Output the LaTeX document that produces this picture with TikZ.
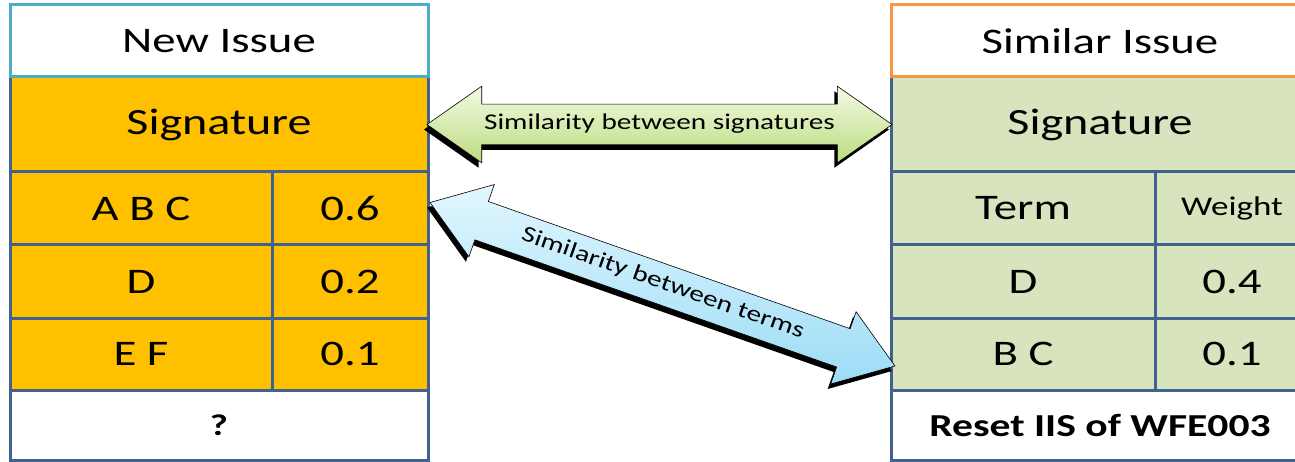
\documentclass[tikz,border=0pt]{standalone}
\usepackage{fontspec}
\setmainfont{Carlito}[FakeStretch=1.3]
\usetikzlibrary{calc, positioning, shapes.arrows, shadows}

\definecolor{tblue}{HTML}{41618F}
\definecolor{hcyan}{HTML}{4BACC6}
\definecolor{horange}{HTML}{F79646}
\definecolor{sigorange}{HTML}{FFC000}
\definecolor{siggreen}{HTML}{D7E4BD}
\definecolor{agreenhi}{HTML}{F3FBE3}
\definecolor{agreenlo}{HTML}{BCDB80}
\definecolor{abluehi}{HTML}{E2F7FF}
\definecolor{abluelo}{HTML}{9CDCF6}

\tikzstyle{cell}=[
draw=tblue,
line width=3pt,
inner sep=0pt,
outer sep=0pt,
anchor=north west,
font=\fontsize{36}{40}\selectfont,
]
\tikzstyle{simarrow}=[
double arrow,
double arrow head extend=18pt,
double arrow tip angle=70,
draw=black,
line width=0.6pt,
inner xsep=0pt, inner ysep=10pt,
text height=15pt, text depth=5pt,
font=\fontsize{22.5}{26}\selectfont,
drop shadow={shadow xshift=-3pt, shadow yshift=-5pt, fill=black, opacity=1},
]

\begin{document}
\begin{tikzpicture}[x=1pt, y=-1pt]
        \useasboundingbox (0,0) rectangle (1295,462);

        % new issue
        \begin{scope}[every node/.append style={fill=sigorange}]
          \node[cell, minimum width=418pt, minimum height=95pt,
            font=\fontsize{37}{40}\selectfont] (lsig) at (10,77) {Signature};
          \node[cell, minimum width=262pt, minimum height=73pt] (lt1) at (lsig.south west) {A B C};
          \node[cell, minimum width=156pt, minimum height=73pt] (lw1) at (lt1.north east) {0.6};
          \node[cell, minimum width=262pt, minimum height=73pt] (lt2) at (lt1.south west) {D};
          \node[cell, minimum width=156pt, minimum height=73pt] (lw2) at (lt2.north east) {0.2};
          \node[cell, minimum width=262pt, minimum height=72pt] (lt3) at (lt2.south west) {E F};
          \node[cell, minimum width=156pt, minimum height=72pt] (lw3) at (lt3.north east) {0.1};
        \end{scope}
        \node[cell, fill=white, minimum width=418pt, minimum height=70pt,
          font=\fontsize{30}{34}\selectfont\bfseries] (lres) at (lt3.south west) {?};
        \node[cell, draw=hcyan, fill=white, minimum width=418pt, minimum height=72pt] (lhead) at (10,5) {New Issue};

        % similar issue
        \begin{scope}[every node/.append style={fill=siggreen}]
          \node[cell, minimum width=418pt, minimum height=95pt,
            font=\fontsize{37}{40}\selectfont] (rsig) at (891,77) {Signature};
          \node[cell, minimum width=264pt, minimum height=73pt] (rt1) at (rsig.south west) {Term};
          \node[cell, minimum width=154pt, minimum height=73pt,
            font=\fontsize{27}{30}\selectfont] (rw1) at (rt1.north east) {Weight};
          \node[cell, minimum width=264pt, minimum height=73pt] (rt2) at (rt1.south west) {D};
          \node[cell, minimum width=154pt, minimum height=73pt] (rw2) at (rt2.north east) {0.4};
          \node[cell, minimum width=264pt, minimum height=72pt] (rt3) at (rt2.south west) {B C};
          \node[cell, minimum width=154pt, minimum height=72pt] (rw3) at (rt3.north east) {0.1};
        \end{scope}
        \node[cell, fill=white, minimum width=418pt, minimum height=70pt,
          font=\fontsize{32}{36}\selectfont\bfseries] (rres) at (rt3.south west) {Reset IIS of WFE003};
        \node[cell, draw=horange, fill=white, minimum width=418pt, minimum height=72pt] (rhead) at (891,5) {Similar Issue};

        % similarity arrows
        \path let \p1=($(rsig.west)-(lsig.east)$), \n1={veclen(\x1,\y1)} in
          node[simarrow, top color=agreenhi, bottom color=agreenlo,
            minimum height=\n1+2pt] (sigarrow) at ($(lsig.east)!0.5!(rsig.west)$)
          {Similarity between signatures};

        \coordinate (tl) at ($(lw1.east)+(2,-6)$);
        \coordinate (tr) at ($(rt3.west)+(4,12)$);
        \path let \p1=($(tr)-(tl)$), \n1={veclen(\x1,\y1)}, \n2={atan2(\y1,\x1)} in
          node[simarrow, top color=abluehi, bottom color=abluelo,
            minimum height=\n1, rotate=\n2] (termarrow) at ($(tl)!0.5!(tr)$)
          {Similarity between terms};
      \end{tikzpicture}
\end{document}
